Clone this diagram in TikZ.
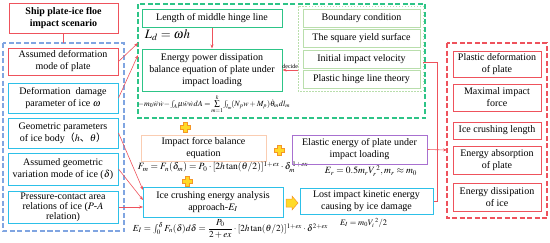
\documentclass[tikz,border=0pt]{standalone}
\usepackage{amsmath,amssymb}
\usepackage{mathptmx}
\usepackage{graphicx}
\usepackage[no-math]{fontspec}
\setmainfont{Liberation Serif}
\newfontfamily\cjk{Noto Sans CJK SC}
\usetikzlibrary{arrows.meta,calc,positioning}
\definecolor{boxred}{RGB}{238,82,92}
\definecolor{boxcyan}{RGB}{45,192,232}
\definecolor{boxgreen}{RGB}{45,196,135}
\definecolor{lightgreen}{RGB}{185,222,172}
\definecolor{peach}{RGB}{250,205,178}
\definecolor{boxpurple}{RGB}{168,112,208}
\definecolor{dashblue}{RGB}{128,165,225}
\definecolor{plusyellow}{RGB}{255,218,40}
\definecolor{plusorange}{RGB}{245,150,40}
\tikzset{
  box/.style={draw, rectangle, align=center, inner sep=1pt, line width=1pt, font=\fontsize{10}{12}\selectfont},
  redbox/.style={box, draw=boxred},
  cyanbox/.style={box, draw=boxcyan},
  greenbox/.style={box, draw=boxgreen},
  lgbox/.style={box, draw=lightgreen, line width=0.8pt},
  formula/.style={inner sep=0pt},
  link/.style={draw=boxred, line width=0.6pt, -{Stealth[length=4pt,width=3pt]}},
  plainlink/.style={draw=boxred, line width=0.6pt}
}
\newcommand{\plusmark}[1]{%
  \draw[fill=plusyellow, draw=plusorange, line width=0.5pt, shift={#1}]
    (-1.8,-5) -- (1.8,-5) -- (1.8,-1.8) -- (5,-1.8) -- (5,1.8) -- (1.8,1.8) -- (1.8,5)
    -- (-1.8,5) -- (-1.8,1.8) -- (-5,1.8) -- (-5,-1.8) -- (-1.8,-1.8) -- cycle;}
\newcommand{\fitmath}[2]{\resizebox{#1}{!}{$#2$}}
\begin{document}
\begin{tikzpicture}[x=1pt,y=-1pt]
\useasboundingbox (0,0) rectangle (550,242);

% Scenario and inputs
\node[redbox, font=\fontsize{10}{12}\selectfont\bfseries, minimum width=109pt, minimum height=30pt] (title) at (63.5,18) {Ship plate-ice floe\\impact scenario};
\draw[dashblue, line width=1.2pt, dash pattern=on 5pt off 2.5pt] (3,43) rectangle (124,231);
\coordinate (bluetop) at (63.5,43);
\draw[plainlink] (title.south) -- (bluetop);

\node[redbox, minimum width=110pt, minimum height=27pt] (plate) at (63,61.5) {Assumed deformation\\mode of plate};
\node[cyanbox, minimum width=110pt, minimum height=30pt] (damage) at (63,98) {Deformation\ \ damage\\parameter of ice $\omega$};
\node[cyanbox, minimum width=110pt, minimum height=30pt] (geom) at (63,133) {Geometric parameters\\of ice body{\cjk （}$h${\cjk 、}$\theta${\cjk ）}};
\node[cyanbox, minimum width=110pt, minimum height=32pt] (vary) at (63,169) {Assumed geometric\\variation mode of ice ($\delta$)};
\node[cyanbox, font=\fontsize{10}{10}\selectfont, minimum width=110pt, minimum height=32pt] (pa) at (63,207) {Pressure-contact area\\relations of ice ($P$-$A$\\relation)};

% Plate energy block
\draw[boxgreen, line width=1.2pt, dash pattern=on 5pt off 2.5pt] (138,4) rectangle (425,118);
\node[greenbox, minimum width=140pt, minimum height=18pt] (hinge) at (212,18) {Length of middle hinge line};
\node[formula] (ld) at (167.5,35) {\fitmath{45pt}{L_d=\omega h}};
\node[greenbox, minimum width=140pt, minimum height=42pt] (energy) at (212,70) {Energy power dissipation\\balance equation of plate under\\impact loading};
\node[formula] (eqenergy) at (214,104) {\fitmath{152pt}{-m_0\ddot{w}\dot{w}\!-\!\int_A\!\mu\ddot{w}\dot{w}dA=\!\sum\limits_{m=1}^{k}\!\int_{l_m}\!(N_pw+M_p)\dot{\theta}_m dl_m}};
\draw[link] (hinge) -- (energy);

\draw[lightgreen, line width=0.9pt, dash pattern=on 1.5pt off 1.5pt] (298,6) rectangle (423,91);
\node[lgbox, minimum width=117pt, minimum height=18pt] (bc) at (361.5,18) {Boundary condition};
\node[lgbox, minimum width=117pt, minimum height=18pt] (yield) at (361.5,38.5) {The square yield surface};
\node[lgbox, minimum width=117pt, minimum height=18pt] (vel) at (361.5,59) {Initial impact velocity};
\node[lgbox, minimum width=117pt, minimum height=18pt] (theory) at (361.5,79.5) {Plastic hinge line theory};
\coordinate (decide) at (298,70);
\draw[link] (decide) -- node[above, inner sep=1pt, font=\fontsize{6}{6}\selectfont] {decide} (energy.east |- decide);

% Force and energy chain
\plusmark{(185,127)}
\node[box, draw=peach, minimum width=125pt, minimum height=26pt] (force) at (203.5,148) {Impact force balance\\equation};
\node[formula] (eqforce) at (223,167) {\fitmath{170pt}{F_m=F_n(\delta_m)=P_0\cdot[2h\tan(\theta/2)]^{1+ex}\cdot\delta_m^{\;1+ex}}};
\plusmark{(279,150)}
\node[box, draw=boxpurple, minimum width=135pt, minimum height=29pt] (elastic) at (359.5,149.5) {Elastic energy of plate under\\impact loading};
\node[formula] (eqelastic) at (371,171) {\fitmath{92pt}{E_r=0.5m_rV_r^{\;2},m_r\approx m_0}};
\plusmark{(187,181)}
\node[cyanbox, minimum width=140pt, minimum height=30pt] (crush) at (213,202) {Ice crushing energy analysis\\approach-$E_I$};
\node[formula] (eqcrush) at (230.5,229) {\fitmath{195pt}{E_I=\int_0^{\delta}F_n(\delta)d\delta=\dfrac{P_0}{2+ex}\cdot[2h\tan(\theta/2)]^{1+ex}\cdot\delta^{2+ex}}};
\draw[fill=plusyellow, draw=plusorange, line width=0.5pt] (286,199) -- (292,199) -- (292,196) -- (298,203) -- (292,210) -- (292,207) -- (286,207) -- cycle;
\node[cyanbox, minimum width=133pt, minimum height=26pt] (lost) at (366.5,201) {Lost impact kinetic energy\\causing by ice damage};
\node[formula] (eqlost) at (363.5,223) {\fitmath{47pt}{E_I=m_0V_i^{\;2}/2}};

% Inputs to blocks
\coordinate (ga) at (138,43);
\coordinate (gb) at (138,55);
\coordinate (ca) at (143,190);
\coordinate (cb) at (143,200);
\coordinate (cc) at (143,207);
\draw[link] (plate.east) -- (ga);
\draw[link] (damage.east) -- (gb);
\draw[link] (geom.east) -- (ca);
\draw[link] (vary.east) -- (cb);
\draw[link] (pa.east) -- (cc);

% Results
\draw[boxred, line width=1.2pt, dash pattern=on 5pt off 2.5pt] (447,43) rectangle (547,218);
\node[redbox, minimum width=88pt, minimum height=26pt] (r1) at (497,64) {Plastic deformation\\of plate};
\node[redbox, minimum width=88pt, minimum height=27pt] (r2) at (497,97.5) {Maximal impact\\force};
\node[redbox, minimum width=88pt, minimum height=17pt] (r3) at (497,130.5) {Ice crushing length};
\node[redbox, minimum width=88pt, minimum height=28pt] (r4) at (497,160) {Energy absorption\\of plate};
\node[redbox, minimum width=88pt, minimum height=28pt] (r5) at (497,197) {Energy dissipation\\of ice};

\coordinate (outa) at (423,62);
\coordinate (bend) at (437,62);
\coordinate (result) at (447,150);
\draw[plainlink] (outa) -- (bend) -- (bend |- lost.east) -- (lost.east);
\draw[link] (elastic.east) -- (result);
\end{tikzpicture}
\end{document}
